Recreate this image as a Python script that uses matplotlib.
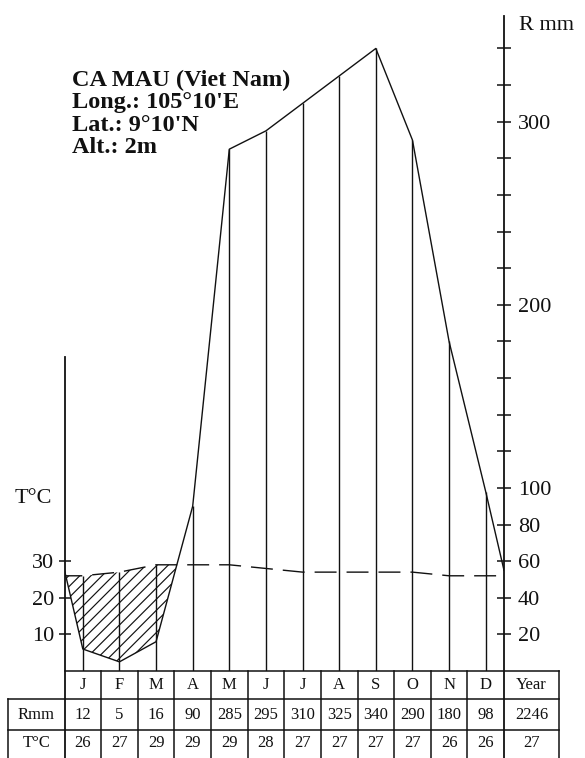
import matplotlib
matplotlib.use('Agg')
import matplotlib.pyplot as plt
from matplotlib.ticker import FixedLocator, FuncFormatter
import numpy as np

# ---- data ----
months = ['J', 'F', 'M', 'A', 'M', 'J', 'J', 'A', 'S', 'O', 'N', 'D']
rain_mm = [12, 5, 16, 90, 285, 295, 310, 325, 340, 290, 180, 98]
temp_c = [26, 27, 29, 29, 29, 28, 27, 27, 27, 27, 26, 26]
rain_year = 2246
temp_year = 27
r_ticks = list(range(20, 341, 20))
r_labels = [20, 40, 60, 80, 100, 200, 300]
t_ticks = [10, 20, 30]
title_lines = ['CA MAU (Viet Nam)', "Long.: 105°10'E", "Lat.: 9°10'N", 'Alt.: 2m']

plt.rcParams['font.family'] = ['Liberation Serif', 'DejaVu Serif']
plt.rcParams['lines.scale_dashes'] = False
plt.rcParams['hatch.linewidth'] = 0.85
plt.rcParams['hatch.color'] = 'black'

INK = '#111111'
W, H = 585, 758
PX = 1.831          # pixels per mm (R) = per 0.5 degC (T)
COLW = 36.625       # pixels per month
left_px, right_px, base_px = 64.5, 504.0, 671.0
YMAX = 360

fig = plt.figure(figsize=(W / 100, H / 100), dpi=100)
ax = fig.add_axes([left_px / W, (H - base_px) / H,
                   (right_px - left_px) / W, YMAX * PX / H])
ax.set_xlim(0, 12)
ax.set_ylim(0, YMAX)
axt = ax.twinx()
axt.set_ylim(0, YMAX / 2)
for a in (ax, axt):
    for s in a.spines.values():
        s.set_visible(False)
ax.set_xticks([])

# curves, wrapped to the axes with the Dec/Jan mean
xc = np.arange(12) + 0.5
x_all = np.concatenate([[0], xc, [12]])
r_edge = (rain_mm[0] + rain_mm[-1]) / 2
t_edge = (temp_c[0] + temp_c[-1]) / 2
r_line = np.array([r_edge] + rain_mm + [r_edge], dtype=float)
t_line = 2 * np.array([t_edge] + temp_c + [t_edge], dtype=float)

# dry period hatching
ax.fill_between(x_all, r_line, t_line, where=r_line < t_line, interpolate=True,
                facecolor='none', edgecolor=INK, hatch='///', linewidth=0)

# month verticals up to the higher curve
ax.vlines(xc, 0, np.maximum(rain_mm, 2 * np.array(temp_c)), color=INK, lw=1.0)
ax.plot(x_all, r_line, color=INK, lw=1.0)
ax.plot(x_all, t_line, color=INK, lw=1.0, ls=(3, (15.8, 7.2)))

# axis lines
yb = -87 / PX
ax.plot([12, 12], [yb, 358], color=INK, lw=1.3, clip_on=False)
ax.plot([0, 0], [yb, 171.5], color=INK, lw=1.3, clip_on=False)

# right (rain) ticks
ax.yaxis.tick_right()
ax.yaxis.set_major_locator(FixedLocator(r_ticks))
ax.yaxis.set_major_formatter(FuncFormatter(lambda v, p: str(int(v)) if int(v) in r_labels else ''))
ax.tick_params(axis='y', direction='inout', length=10, width=1.1, pad=5,
               labelsize=16, colors=INK)

# left (temperature) ticks
axt.yaxis.tick_left()
axt.yaxis.set_major_locator(FixedLocator(t_ticks))
axt.tick_params(axis='y', direction='inout', length=9, width=1.1, pad=3,
                labelsize=16, colors=INK)

fig.text(519 / W, 1 - 30 / H, 'R mm', fontsize=16, va='baseline', color=INK)
fig.text(15 / W, 1 - 503 / H, 'T°C', fontsize=16, va='baseline', color=INK)

for i, line in enumerate(title_lines):
    fig.text(71.5 / W, 1 - (86 + 22.3 * i) / H, line, fontsize=17.5,
             fontweight='bold', va='baseline', color=INK)

# ---- table ----
y1 = -28.3 / PX
y2 = -59.0 / PX
x_rm = -56.5 / COLW
x_yr = 12 + 55.0 / COLW
kw = dict(color=INK, lw=1.1, clip_on=False)
ax.plot([0, x_yr], [0, 0], **kw)
ax.plot([x_rm, x_yr], [y1, y1], **kw)
ax.plot([x_rm, x_yr], [y2, y2], **kw)
ax.plot([x_rm, x_rm], [y1, yb], **kw)
for k in range(1, 12):
    ax.plot([k, k], [0, yb], **kw)
ax.plot([x_yr, x_yr], [0, yb], **kw)

ty = dict(ha='center', va='center', fontsize=12, color=INK, clip_on=False)
yh, yr, yt = y1 / 2, (y1 + y2) / 2, (y2 + yb) / 2 + 0.8
for i, m in enumerate(months):
    ax.text(xc[i], yh, m, **ty)
    ax.text(xc[i], yr, str(rain_mm[i]), **ty)
    ax.text(xc[i], yt, str(temp_c[i]), **ty)
ax.text((12 + x_yr) / 2, yh, 'Year', **ty)
ax.text((12 + x_yr) / 2, yr, str(rain_year), **ty)
ax.text((12 + x_yr) / 2, yt, str(temp_year), **ty)
ax.text(x_rm / 2, yr, 'Rmm', **ty)
ax.text(x_rm / 2, yt, 'T°C', **ty)

fig.savefig('out.png', dpi=100, facecolor='white')
